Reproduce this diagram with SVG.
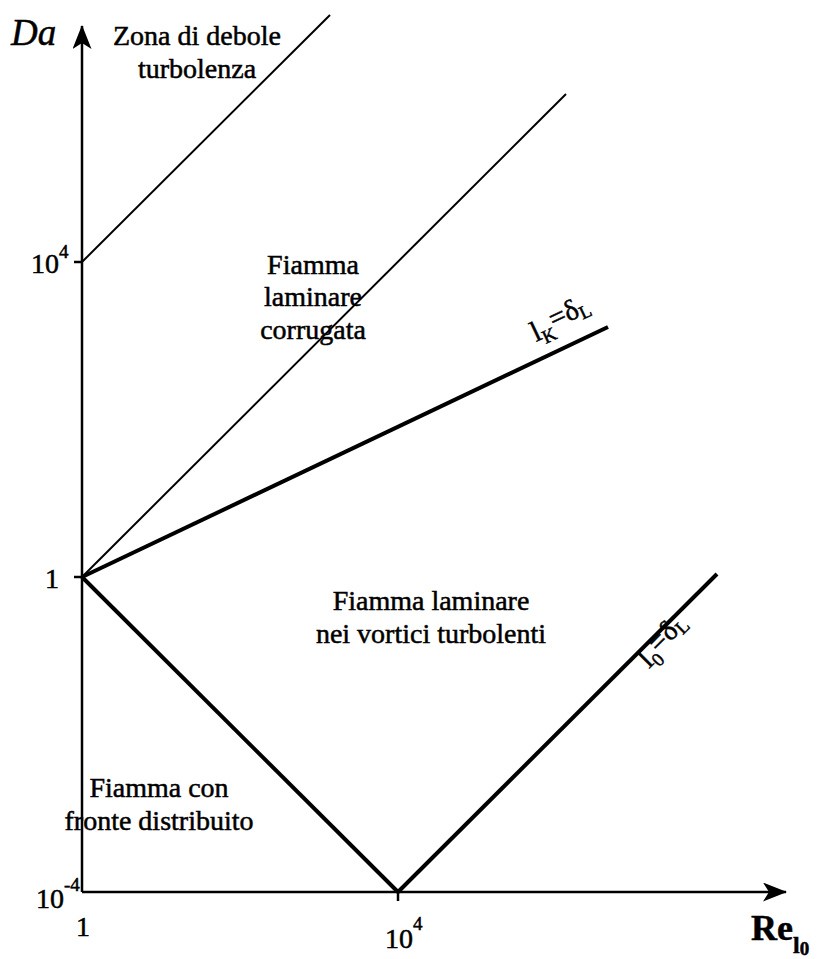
<svg xmlns="http://www.w3.org/2000/svg" width="823" height="959" viewBox="0 0 823 959">
<defs>
<style>
.t{font-size:28px;fill:#000;stroke:#000;stroke-width:0.5;text-anchor:middle}
.n{font-size:28px;fill:#000;stroke:#000;stroke-width:0.5}
.thin{stroke:#000;stroke-width:2;fill:none}
.thick{stroke:#000;stroke-width:4;fill:none}
.ax{stroke:#000;stroke-width:2.5;fill:none}
</style>
<marker id="ah" markerWidth="24" markerHeight="19" refX="23" refY="9.5" orient="auto" markerUnits="userSpaceOnUse" viewBox="0 0 24 19">
<path d="M0,0 L24,9.5 L0,19 L6,9.5 Z" fill="#000"/>
</marker>
</defs>
<rect width="823" height="959" fill="#fff"/>
<g font-family="Liberation Serif, Times New Roman, DejaVu Serif, serif">
<g id="axes">
<line class="ax" x1="82" y1="892" x2="82" y2="26" marker-end="url(#ah)"/>
<line class="ax" x1="82" y1="892" x2="786" y2="892" marker-end="url(#ah)"/>
<line class="ax" x1="74" y1="262" x2="82" y2="262"/>
<line class="ax" x1="74" y1="577" x2="82" y2="577"/>
<line class="ax" x1="398" y1="892" x2="398" y2="901"/>
</g>
<g id="connectors">
<line class="thin" x1="82" y1="262" x2="330" y2="15"/>
<line class="thin" x1="82" y1="577" x2="566" y2="94"/>
<line class="thick" x1="82" y1="577" x2="608" y2="327"/>
<line class="thick" x1="82" y1="577" x2="398" y2="892"/>
<line class="thick" x1="398" y1="892" x2="717" y2="574"/>
</g>
<g id="labels">
<text class="n" x="11" y="45" style="font-style:italic;font-size:37px">Da</text>
<text class="n" x="31" y="273">10<tspan font-size="19" dy="-15">4</tspan></text>
<text class="n" x="45" y="588">1</text>
<text class="n" x="36" y="908">10<tspan font-size="19" dy="-17">-4</tspan></text>
<text class="n" x="76" y="936">1</text>
<text class="n" x="385" y="948">10<tspan font-size="19" dy="-18">4</tspan></text>
<text class="n" x="751" y="940" style="font-weight:bold;font-size:36px">Re<tspan font-size="24" dy="13">l</tspan><tspan font-size="19" dy="2">0</tspan></text>
</g>
<g id="zona">
<text class="t" x="197" y="45">Zona di debole</text>
<text class="t" x="197" y="78">turbolenza</text>
</g>
<g id="corrugata">
<text class="t" x="313" y="274">Fiamma</text>
<text class="t" x="313" y="306">laminare</text>
<text class="t" x="313" y="339">corrugata</text>
</g>
<g id="vortici">
<text class="t" x="431" y="610">Fiamma laminare</text>
<text class="t" x="431" y="643">nei vortici turbolenti</text>
</g>
<g id="distribuito">
<text class="t" x="159" y="797">Fiamma con</text>
<text class="t" x="159" y="830">fronte distribuito</text>
</g>
<g id="lk">
<text class="n" style="font-size:29px" transform="translate(536,342) rotate(-25.4)">l<tspan font-size="19" dy="6">K</tspan><tspan dy="-10">=</tspan><tspan>δ</tspan><tspan font-size="19" dy="4">L</tspan></text>
</g>
<g id="l0">
<text class="n" style="font-size:29px" transform="translate(649,669) rotate(-45)">l<tspan font-size="19" dy="6">0</tspan><tspan dy="-10">=</tspan><tspan>δ</tspan><tspan font-size="19" dy="4">L</tspan></text>
</g>
</g>
</svg>
